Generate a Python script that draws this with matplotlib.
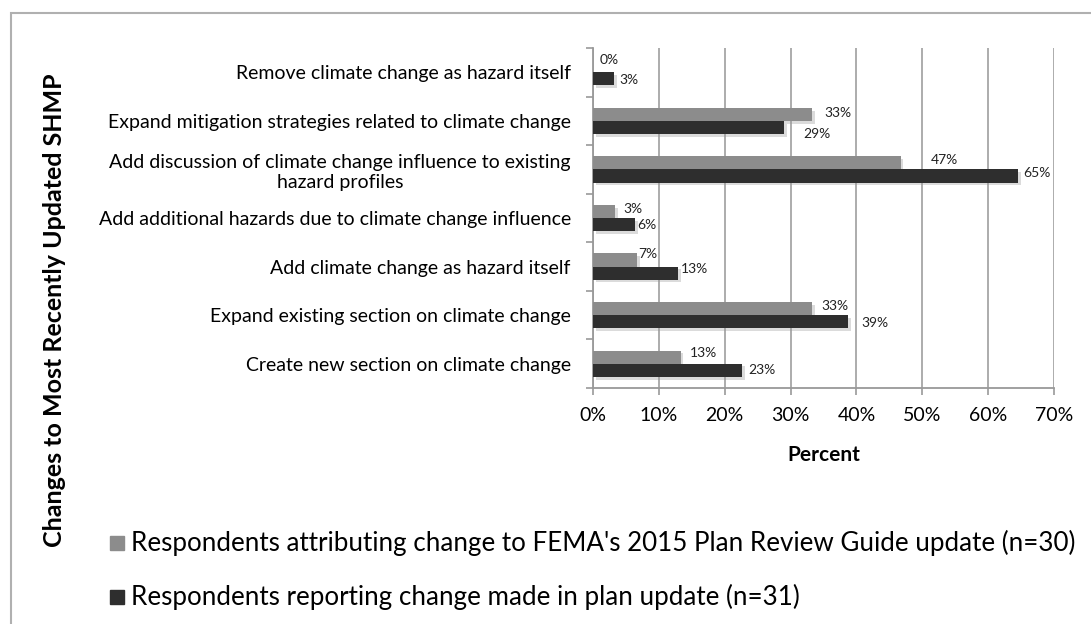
import numpy as np
import matplotlib.pyplot as plt
import matplotlib.patheffects as pe
from matplotlib.patches import Rectangle

plt.rcParams['font.family'] = ['Lato', 'DejaVu Sans']

# categories, bottom to top
categories = [
    "Create new section on climate change",
    "Expand existing section on climate change",
    "Add climate change as hazard itself",
    "Add additional hazards due to climate change influence",
    "Add discussion of climate change influence to existing\nhazard profiles",
    "Expand mitigation strategies related to climate change",
    "Remove climate change as hazard itself",
]
fema_pct = [13.3, 33.3, 6.7, 3.3, 46.7, 33.3, 0.0]
made_pct = [22.6, 38.7, 12.9, 6.45, 64.5, 29.0, 3.2]
xticks = [0, 10, 20, 30, 40, 50, 60, 70]

fema_name = "Respondents attributing change to FEMA's 2015 Plan Review Guide update (n=30)"
made_name = "Respondents reporting change made in plan update (n=31)"

# label nudges in pixels (excel placed them a bit unevenly)
fema_dx = [9, 9, 1, 9, 30, 12, 7]
fema_dy = [4, 3, 6, 2, 3, 1, 6]
made_dx = [6, 14, 3, 2, 5, 19, 5]
made_dy = [0, -1, 4, 0, 3, -7, -1]

c_fema = '#8c8c8c'
c_made = '#2e2e2e'

W, H = 1091, 624
fig = plt.figure(figsize=(W / 100, H / 100), dpi=100)
ax = fig.add_axes([593 / W, 1 - 388 / H, (1054 - 593) / W, (388 - 48) / H])

y = np.arange(len(categories))
h = 0.27
shadow = [pe.SimplePatchShadow(offset=(2, -2), shadow_rgbFace='#999999', alpha=0.35), pe.Normal()]
b1 = ax.barh(y + h / 2, fema_pct, height=h, color=c_fema, zorder=3)
b2 = ax.barh(y - h / 2, made_pct, height=h, color=c_made, zorder=3)
for b in list(b1) + list(b2):
    b.set_path_effects(shadow)

for yi, v, dx, dy in zip(y, fema_pct, fema_dx, fema_dy):
    ax.annotate(f"{int(v + 0.5)}%", (v, yi + h / 2), xytext=(dx * 0.72, dy * 0.72),
                textcoords='offset points', fontsize=10, va='center', color='#222222')
for yi, v, dx, dy in zip(y, made_pct, made_dx, made_dy):
    ax.annotate(f"{int(v + 0.5)}%", (v, yi - h / 2), xytext=(dx * 0.72, dy * 0.72),
                textcoords='offset points', fontsize=10, va='center', color='#222222')

ax.set_xlim(0, 70)
ax.set_ylim(-0.5, len(categories) - 0.5)
ax.set_xticks(xticks)
ax.set_xticklabels([f"{t}%" for t in xticks], fontsize=14)
ax.set_yticks(np.arange(len(categories) + 1) - 0.5, minor=False)
ax.set_yticklabels([])
ax.set_yticks(y, minor=True)
ax.set_yticklabels(categories, minor=True, fontsize=14, multialignment='center')
ax.tick_params(axis='y', which='minor', length=0, pad=16)
ax.tick_params(axis='y', which='major', length=5, color='#999999', width=1.2)
ax.tick_params(axis='x', length=5, color='#999999', width=1.2, pad=9)
ax.grid(axis='x', color='#a6a6a6', linewidth=1.3, zorder=0)
for s in ['top', 'right']:
    ax.spines[s].set_visible(False)
for s in ['left', 'bottom']:
    ax.spines[s].set_color('#999999')
    ax.spines[s].set_linewidth(1.3)
ax.set_xlabel("Percent", fontsize=15, fontweight='bold', labelpad=15)

fig.text(55 / W, 1 - 310 / H, "Changes to Most Recently Updated SHMP", rotation=90,
         fontsize=18, fontweight='bold', ha='center', va='center')

# legend drawn by hand
for yy, col, name in [(543, c_fema, fema_name), (597, c_made, made_name)]:
    fig.patches.append(Rectangle((110 / W, 1 - (yy + 7) / H), 14 / W, 14 / H,
                                 transform=fig.transFigure, color=col))
    fig.text(131 / W, 1 - yy / H, name, fontsize=18.7, va='center', ha='left')

fig.patches.append(Rectangle((11 / W, -0.1), 1.2, 1 - 13 / H + 0.1, transform=fig.transFigure,
                             fill=False, edgecolor='#b0b0b0', linewidth=1.5))

fig.savefig('out.png', dpi=100)
